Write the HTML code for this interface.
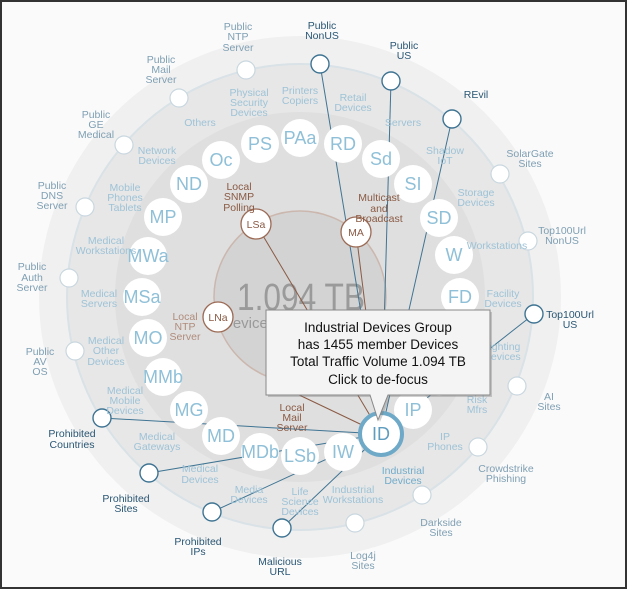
<!DOCTYPE html>
<html><head><meta charset="utf-8"><style>
html,body{margin:0;padding:0;background:#fff}
svg{display:block}
text{font-family:"Liberation Sans Narrow","Liberation Sans",sans-serif}
.l{fill:#9ec3d7;font-size:10.5px;text-anchor:middle}
.d{fill:#2a5674;font-size:10.5px;text-anchor:middle}
.g{fill:#7f9fb3;font-size:10.5px;text-anchor:middle}
.b{fill:#8a5a44;font-size:10.5px;text-anchor:middle}
.bt{fill:#8fc0d8;font-size:18px;text-anchor:middle}
.on{fill:#fff;stroke:#c9d7df;stroke-width:1.2}
.onh{fill:#fff;stroke:#3f7493;stroke-width:1.4}
.bn{fill:#fff;stroke:#9b6a55;stroke-width:1.3}
.bl{stroke:#3f7493;stroke-width:1;fill:none}
.br{stroke:#8a5a44;stroke-width:1;fill:none}
</style></head><body>
<svg width="627" height="589" viewBox="0 0 627 589">
<rect x="1" y="1" width="625" height="587" fill="#fafafa" stroke="#333" stroke-width="2"/>
<circle cx="300" cy="297" r="261" fill="#f0f0f0"/>
<circle cx="300" cy="297" r="233" fill="#e7e7e7" stroke="#d9e2e7" stroke-width="2"/>
<circle cx="300" cy="297" r="185" fill="#dfdfdf"/>
<circle cx="300" cy="297" r="86" fill="#d3d3d3" stroke="#cbb7ae" stroke-width="1.5"/>
<text x="237" y="310" font-size="38" fill="#9a9a9a" textLength="128" lengthAdjust="spacingAndGlyphs">1.094 TB</text>
<text x="222" y="328" font-size="15" fill="#9a9a9a">Devices</text>

<g class="br">
<line x1="256" y1="224" x2="381" y2="434"/>
<line x1="356" y1="232" x2="381" y2="434"/>
<line x1="295" y1="393" x2="381" y2="434"/>
</g>
<g class="bl">
<line x1="381" y1="434" x2="320" y2="64"/>
<line x1="381" y1="434" x2="391" y2="81"/>
<line x1="381" y1="434" x2="452" y2="119"/>
<line x1="381" y1="434" x2="534" y2="314"/>
<line x1="381" y1="434" x2="102" y2="418"/>
<line x1="381" y1="434" x2="149" y2="473"/>
<line x1="381" y1="434" x2="212" y2="512"/>
<line x1="381" y1="434" x2="282" y2="528"/>
</g>

<g fill="#fff">
<circle cx="260" cy="144" r="19"/><circle cx="300" cy="138" r="19"/><circle cx="343" cy="144" r="19"/>
<circle cx="381" cy="159" r="19"/><circle cx="413" cy="184" r="19"/><circle cx="439" cy="218" r="19"/>
<circle cx="454" cy="255" r="19"/><circle cx="460" cy="297" r="19"/><circle cx="454" cy="338" r="19"/>
<circle cx="439" cy="377" r="19"/><circle cx="413" cy="410" r="19"/>
<circle cx="343" cy="452" r="19"/><circle cx="300" cy="456" r="19"/><circle cx="260" cy="452" r="19"/>
<circle cx="221" cy="436" r="19"/><circle cx="189" cy="410" r="19"/><circle cx="163" cy="377" r="19"/>
<circle cx="148" cy="338" r="19"/><circle cx="142" cy="297" r="19"/><circle cx="148" cy="256" r="19"/>
<circle cx="163" cy="217" r="19"/><circle cx="189" cy="184" r="19"/><circle cx="221" cy="160" r="19"/>
</g>
<circle cx="381" cy="434" r="21" fill="#fff" stroke="#6fa9c8" stroke-width="4"/>
<g class="bt">
<text x="260" y="150">PS</text><text x="300" y="144">PAa</text><text x="343" y="150">RD</text>
<text x="381" y="165">Sd</text><text x="413" y="190">SI</text><text x="439" y="224">SD</text>
<text x="454" y="261">W</text><text x="460" y="303">FD</text><text x="413" y="416">IP</text>
<text x="343" y="458">IW</text><text x="300" y="462">LSb</text><text x="260" y="458">MDb</text>
<text x="221" y="442">MD</text><text x="189" y="416">MG</text><text x="163" y="383">MMb</text>
<text x="148" y="344">MO</text><text x="142" y="303">MSa</text><text x="148" y="262">MWa</text>
<text x="163" y="223">MP</text><text x="189" y="190">ND</text><text x="221" y="166">Oc</text>
<text x="381" y="440" fill="#5f9dbf">ID</text>
</g>

<circle cx="256" cy="224" r="15" class="bn"/><text x="256" y="228" class="b" font-size="11">LSa</text>
<circle cx="356" cy="232" r="15" class="bn"/><text x="356" y="236" class="b" font-size="11">MA</text>
<circle cx="218" cy="317" r="15" class="bn" stroke="#c7aea2"/><text x="218" y="321" class="b" font-size="11" fill="#b08c7c">LNa</text>

<g>
<circle cx="320" cy="64" r="9" class="onh"/><circle cx="391" cy="81" r="9" class="onh"/>
<circle cx="452" cy="119" r="9" class="onh"/><circle cx="500" cy="174" r="9" class="on"/>
<circle cx="528" cy="241" r="9" class="on"/><circle cx="534" cy="314" r="9" class="onh"/>
<circle cx="517" cy="386" r="9" class="on"/><circle cx="478" cy="447" r="9" class="on"/>
<circle cx="422" cy="495" r="9" class="on"/><circle cx="355" cy="523" r="9" class="on"/>
<circle cx="282" cy="528" r="9" class="onh"/><circle cx="212" cy="512" r="9" class="onh"/>
<circle cx="149" cy="473" r="9" class="onh"/><circle cx="102" cy="418" r="9" class="onh"/>
<circle cx="75" cy="351" r="9" class="on"/><circle cx="69" cy="278" r="9" class="on"/>
<circle cx="85" cy="207" r="9" class="on"/><circle cx="124" cy="145" r="9" class="on"/>
<circle cx="179" cy="98" r="9" class="on"/><circle cx="246" cy="70" r="9" class="on"/>
</g>

<g class="g">
<text x="238" y="30">Public</text><text x="238" y="40">NTP</text><text x="238" y="51">Server</text>
<text x="161" y="63">Public</text><text x="161" y="73">Mail</text><text x="161" y="83">Server</text>
<text x="96" y="118">Public</text><text x="96" y="128">GE</text><text x="96" y="138">Medical</text>
<text x="530" y="157">SolarGate</text><text x="530" y="167">Sites</text>
<text x="52" y="189">Public</text><text x="52" y="199">DNS</text><text x="52" y="209">Server</text>
<text x="562" y="234">Top100Url</text><text x="562" y="244">NonUS</text>
<text x="32" y="270">Public</text><text x="32" y="281">Auth</text><text x="32" y="291">Server</text>
<text x="40" y="355">Public</text><text x="40" y="365">AV</text><text x="40" y="375">OS</text>
<text x="549" y="400">AI</text><text x="549" y="410">Sites</text>
<text x="506" y="472">Crowdstrike</text><text x="506" y="482">Phishing</text>
<text x="441" y="526">Darkside</text><text x="441" y="536">Sites</text>
<text x="363" y="559">Log4j</text><text x="363" y="569">Sites</text>
</g>
<g class="d">
<text x="322" y="29">Public</text><text x="322" y="39">NonUS</text>
<text x="404" y="49">Public</text><text x="404" y="59">US</text>
<text x="476" y="98">REvil</text>
<text x="570" y="318">Top100Url</text><text x="570" y="328">US</text>
<text x="72" y="437">Prohibited</text><text x="72" y="448">Countries</text>
<text x="126" y="502">Prohibited</text><text x="126" y="512">Sites</text>
<text x="198" y="545">Prohibited</text><text x="198" y="555">IPs</text>
<text x="280" y="565">Malicious</text><text x="280" y="575">URL</text>
</g>
<g class="l">
<text x="249" y="96">Physical</text><text x="249" y="106">Security</text><text x="249" y="116">Devices</text>
<text x="300" y="94">Printers</text><text x="300" y="104">Copiers</text>
<text x="353" y="101">Retail</text><text x="353" y="111">Devices</text>
<text x="200" y="126">Others</text>
<text x="403" y="126">Servers</text>
<text x="157" y="154">Network</text><text x="157" y="164">Devices</text>
<text x="445" y="154">Shadow</text><text x="445" y="164">IoT</text>
<text x="125" y="191">Mobile</text><text x="125" y="201">Phones</text><text x="125" y="211">Tablets</text>
<text x="476" y="196">Storage</text><text x="476" y="206">Devices</text>
<text x="106" y="244">Medical</text><text x="106" y="254">Workstations</text>
<text x="497" y="249">Workstations</text>
<text x="99" y="297">Medical</text><text x="99" y="307">Servers</text>
<text x="503" y="297">Facility</text><text x="503" y="307">Devices</text>
<text x="106" y="344">Medical</text><text x="106" y="354">Other</text><text x="106" y="365">Devices</text>
<text x="502" y="350">Lighting</text><text x="502" y="360">Devices</text>
<text x="125" y="394">Medical</text><text x="125" y="404">Mobile</text><text x="125" y="414">Devices</text>
<text x="477" y="403">Risk</text><text x="477" y="413">Mfrs</text>
<text x="157" y="440">Medical</text><text x="157" y="450">Gateways</text>
<text x="445" y="440">IP</text><text x="445" y="450">Phones</text>
<text x="200" y="472">Medical</text><text x="200" y="483">Devices</text>
<text x="403" y="474" fill="#72acca">Industrial</text><text x="403" y="484" fill="#72acca">Devices</text>
<text x="249" y="493">Media</text><text x="249" y="503">Devices</text>
<text x="300" y="495">Life</text><text x="300" y="505">Science</text><text x="300" y="515">Devices</text>
<text x="353" y="493">Industrial</text><text x="353" y="503">Workstations</text>
</g>
<g class="b">
<text x="239" y="190">Local</text><text x="239" y="200">SNMP</text><text x="239" y="211">Polling</text>
<text x="379" y="201">Multicast</text><text x="379" y="212">and</text><text x="379" y="222">Broadcast</text>
<text x="185" y="320" fill="#b08c7c">Local</text><text x="185" y="330" fill="#b08c7c">NTP</text><text x="185" y="340" fill="#b08c7c">Server</text>
<text x="292" y="411">Local</text><text x="292" y="421">Mail</text><text x="292" y="431">Server</text>
</g>

<path d="M268,312 H492 V397 H390 L380,422 L372,397 H268 Z" fill="#777" opacity="0.35"/>
<path d="M266,310 H490 V395 H388 L378,420 L370,395 H266 Z" fill="#f4f4f4" stroke="#888" stroke-width="1"/>
<g font-size="13.5" fill="#111" text-anchor="middle">
<text x="378" y="332">Industrial Devices Group</text>
<text x="378" y="349">has 1455 member Devices</text>
<text x="378" y="366">Total Traffic Volume 1.094 TB</text>
<text x="378" y="384">Click to de-focus</text>
</g>
</svg>
</body></html>
